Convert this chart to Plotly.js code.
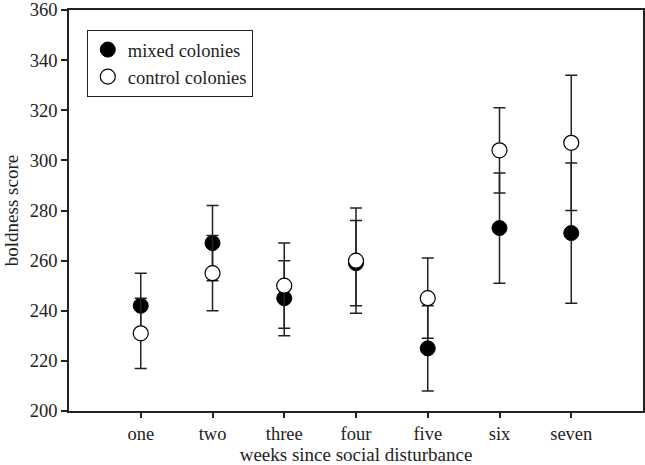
<!DOCTYPE html>
<html>
<head>
<meta charset="utf-8">
<script src="https://cdn.plot.ly/plotly-3.0.1.min.js"></script>
<style>
  body { margin: 0; background: #fff; }
  #chart { width: 645px; height: 465px; }
</style>
</head>
<body>
<div id="chart"></div>
<script>
// weeks after the disturbance
const weeks = ['one', 'two', 'three', 'four', 'five', 'six', 'seven'];

// mean boldness score and its error
const mixedMean = [242, 267, 245, 259, 225, 273, 271];
const mixedErr  = [13, 15, 15, 17, 17, 22, 28];
const controlMean = [231, 255, 250, 260, 245, 304, 307];
const controlErr  = [14, 15, 17, 21, 16, 17, 27];

const yTicks = [200, 220, 240, 260, 280, 300, 320, 340, 360];

const serif = 'Liberation Serif, Times New Roman, serif';
const ink = '#222';

function errBar(vals) {
  return {type: 'data', array: vals, visible: true, color: ink, thickness: 1.5, width: 6};
}

var data = [{
  x: weeks, y: mixedMean,
  name: 'mixed colonies',
  mode: 'markers',
  type: 'scatter',
  marker: {color: '#000', size: 15, symbol: 'circle', line: {color: '#000', width: 1}},
  error_y: errBar(mixedErr)
}, {
  x: weeks, y: controlMean,
  name: 'control colonies',
  mode: 'markers',
  type: 'scatter',
  marker: {color: '#fff', size: 15, symbol: 'circle', line: {color: '#000', width: 1.2}},
  error_y: errBar(controlErr)
}];

var layout = {
  width: 645,
  height: 465,
  margin: {l: 69, r: 2, t: 10, b: 54},
  paper_bgcolor: '#fff',
  plot_bgcolor: '#fff',
  font: {family: serif, size: 18.5, color: ink},
  showlegend: true,
  legend: {
    x: 0.031, y: 0.95, xanchor: 'left', yanchor: 'top',
    bordercolor: ink, borderwidth: 1,
    font: {family: serif, size: 18.5, color: ink},
    entrywidth: 172, entrywidthmode: 'pixels',
    tracegroupgap: 0
  },
  xaxis: {
    type: 'category',
    range: [-1, 7],
    showgrid: false,
    zeroline: false,
    showline: true, mirror: true, linecolor: ink, linewidth: 1.5,
    ticks: 'outside', ticklen: 5, tickcolor: ink, tickwidth: 1.5,
    tickfont: {family: serif, size: 18.5, color: ink},
    title: {text: 'weeks since social disturbance', font: {family: serif, size: 19, color: ink}, standoff: 5}
  },
  yaxis: {
    range: [200, 360],
    tickvals: yTicks,
    showgrid: false,
    zeroline: false,
    showline: true, mirror: true, linecolor: ink, linewidth: 1.5,
    ticks: 'outside', ticklen: 6, tickcolor: ink, tickwidth: 1.5,
    tickfont: {family: serif, size: 18.5, color: ink},
    title: {text: 'boldness score', font: {family: serif, size: 19, color: ink}, standoff: 6}
  }
};

Plotly.newPlot('chart', data, layout, {displayModeBar: false});
</script>
</body>
</html>
